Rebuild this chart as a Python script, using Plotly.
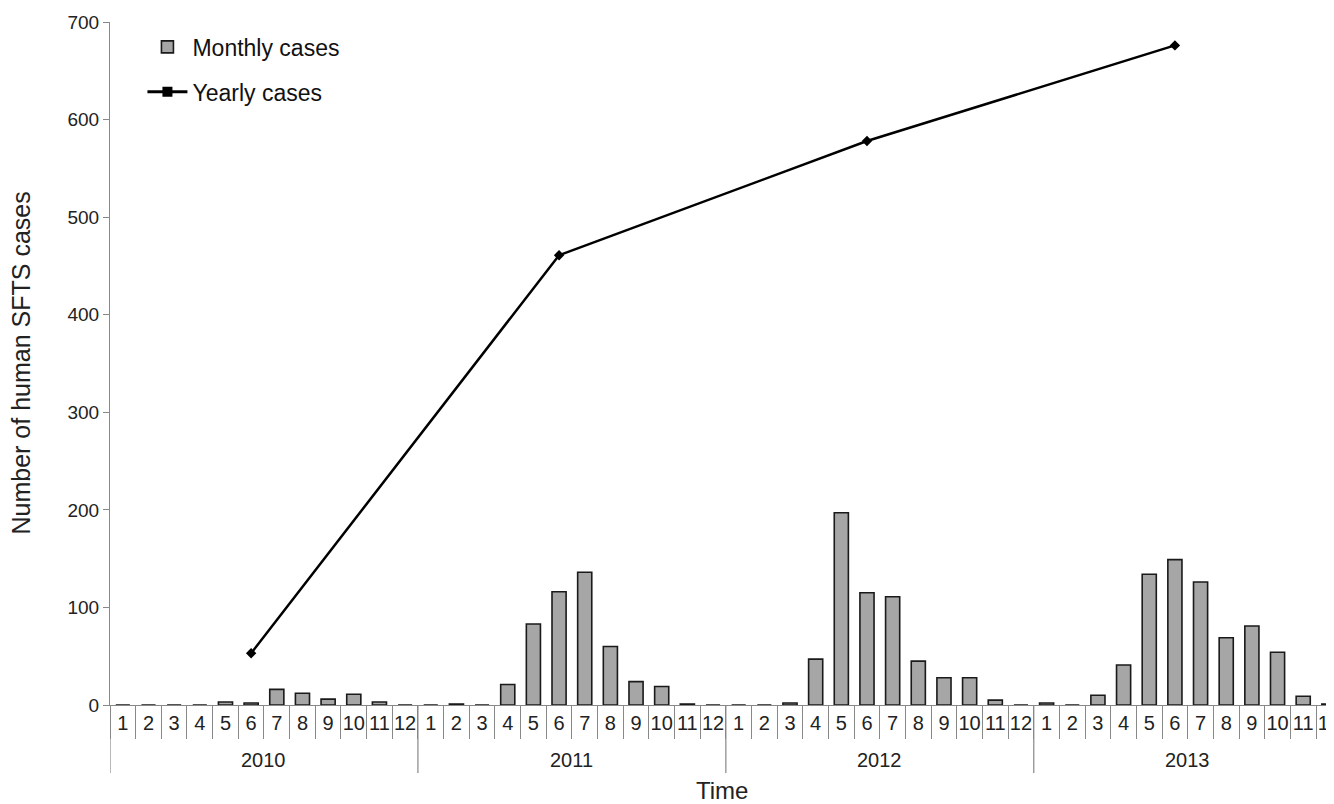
import plotly.graph_objects as go

years = ["2010", "2011", "2012", "2013"]
months = [str(m) for m in range(1, 13)]
monthly_cases = [
    0, 0, 0, 0, 3, 2, 16, 12, 6, 11, 3, 0,
    0, 1, 0, 21, 83, 116, 136, 60, 24, 19, 1, 0,
    0, 0, 2, 47, 197, 115, 111, 45, 28, 28, 5, 0,
    2, 0, 10, 41, 134, 149, 126, 69, 81, 54, 9, 1,
]
yearly_month_index = [5, 17, 29, 41]  # June of each year
yearly_cases = [53, 461, 578, 676]

n = len(years) * len(months)
xs = list(range(n))
ticktext = months * len(years)

FONT = "Liberation Sans, Arial, sans-serif"
W, H = 1326, 796
L, R, T, B = 102, 0, 14, 99
PW, PH = W - L - R, H - T - B

fig = go.Figure()
fig.add_trace(go.Bar(
    x=xs, y=monthly_cases, name="Monthly cases", showlegend=False,
    marker=dict(color="#a6a6a6", line=dict(color="#1a1a1a", width=1.6)),
    width=0.55,
))
fig.add_trace(go.Scatter(
    x=yearly_month_index, y=yearly_cases, mode="lines+markers", showlegend=False,
    line=dict(color="black", width=2.5),
    marker=dict(symbol="diamond", size=8, color="black"),
))
# legend entries
fig.add_trace(go.Bar(x=[None], y=[None], name="Monthly cases", legendgroup="a",
                     marker=dict(color="#a6a6a6", line=dict(color="#1a1a1a", width=1.6))))
fig.add_trace(go.Scatter(x=[None], y=[None], name="Yearly cases", mode="lines+markers",
                         legendgroup="b",
                         line=dict(color="black", width=3),
                         marker=dict(symbol="square", size=10, color="black")))

shapes = []
for i in range(len(years) + 1):
    xb = i * len(months) - 0.5
    shapes.append(dict(type="line", xref="x", yref="paper", x0=xb, x1=xb,
                       y0=0, y1=-68 / PH, line=dict(color="#888888", width=1.2)))
annotations = []
for i, yr in enumerate(years):
    annotations.append(dict(x=i * len(months) + 5.5, y=-55 / PH, xref="x", yref="paper",
                            text=yr, showarrow=False, yanchor="middle",
                            font=dict(size=20, color="#222", family=FONT)))
annotations.append(dict(x=0.5, y=-85 / PH, xref="paper", yref="paper", text="Time",
                        showarrow=False, yanchor="middle",
                        font=dict(size=24, color="#222", family=FONT)))
annotations.append(dict(x=-90 / PW, y=0.5, xref="paper", yref="paper",
                        text="Number of human SFTS cases",
                        showarrow=False, textangle=-90, xanchor="center", yanchor="middle",
                        font=dict(size=25, color="#222", family=FONT)))

fig.update_layout(
    width=W, height=H,
    margin=dict(l=L, r=R, t=T, b=B, autoexpand=False),
    paper_bgcolor="white", plot_bgcolor="white",
    font=dict(family=FONT, size=19, color="#222"),
    barmode="overlay",
    showlegend=True,
    legend=dict(x=0.0265, y=0.995, xanchor="left", yanchor="top", bgcolor="rgba(0,0,0,0)",
                font=dict(size=23, family=FONT, color="#111"), traceorder="grouped",
                tracegroupgap=12, itemwidth=40),
    xaxis=dict(
        range=[-0.5, 47.2], tickvals=xs, ticktext=ticktext, ticks="", showgrid=False,
        showline=True, linecolor="#888888", linewidth=1.2, zeroline=False, automargin=False,
        tickfont=dict(size=20, color="#222"), ticklabeloverflow="allow",
        minor=dict(tickvals=[i - 0.5 for i in range(n + 1)], ticks="outside", ticklen=33,
                   tickcolor="#888888", tickwidth=1.2, showgrid=False),
    ),
    yaxis=dict(
        range=[0, 700], tickvals=[0, 100, 200, 300, 400, 500, 600, 700], showgrid=False,
        showline=True, linecolor="#888888", linewidth=1.2, ticks="outside", ticklen=6,
        automargin=False,
        tickcolor="#888888", zeroline=False, tickfont=dict(size=19, color="#222"),
    ),
    shapes=shapes, annotations=annotations,
)
fig.write_html("out.html")
